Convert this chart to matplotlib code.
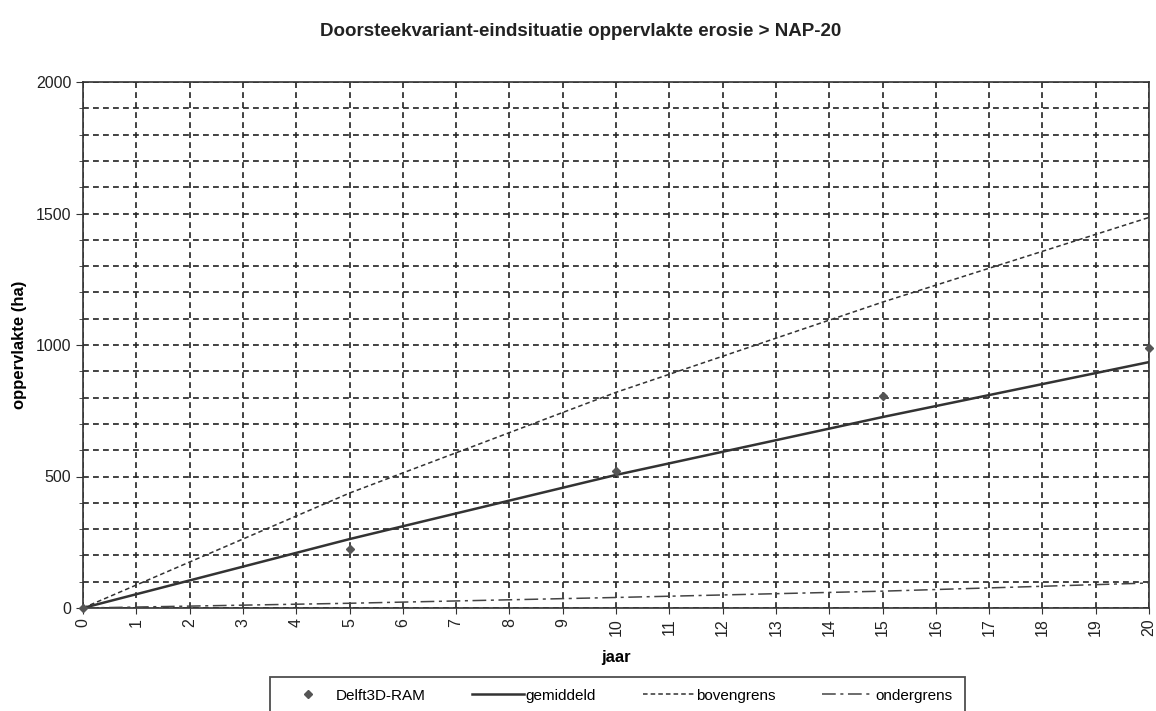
import matplotlib
matplotlib.use("Agg")
import matplotlib.pyplot as plt
import numpy as np
from matplotlib.ticker import MultipleLocator

plt.rcParams["font.family"] = ["Liberation Sans", "DejaVu Sans"]

# Delft3D-RAM results and fitted trend lines (area in ha per year)
jaar_ram = [0, 5, 10, 15, 20]
ram = [0, 226, 522, 806, 990]

jaar_fit = [0, 5, 10, 15, 20]
gemiddeld = [0, 262, 506, 726, 935]
bovengrens = [0, 437, 820, 1163, 1485]
ondergrens = [0, 18, 40, 64, 95]

title = "Doorsteekvariant-eindsituatie oppervlakte erosie > NAP-20"
ink = "#333333"

fig = plt.figure(figsize=(11.56, 7.11), dpi=100)
ax = fig.add_axes([83 / 1156, 1 - 608 / 711, (1149 - 83) / 1156, (608 - 82) / 711])

ax.plot(jaar_ram, ram, linestyle="none", marker="D", markersize=4.5,
        color="#555555", label="Delft3D-RAM", zorder=5, clip_on=False)
ax.plot(jaar_fit, gemiddeld, color=ink, lw=1.8, label="gemiddeld", zorder=4)
ax.plot(jaar_fit, bovengrens, color=ink, lw=1.1, dashes=(3, 2),
        label="bovengrens", zorder=4)
ax.plot(jaar_fit, ondergrens, color="#444444", lw=1.1, dashes=(9, 3, 2, 3),
        label="ondergrens", zorder=4)

ax.set_xlim(0, 20)
ax.set_ylim(0, 2000)
ax.set_xticks(np.arange(0, 21, 1))
ax.yaxis.set_major_locator(MultipleLocator(500))
ax.yaxis.set_minor_locator(MultipleLocator(100))
ax.tick_params(axis="x", labelrotation=90, labelsize=11.5, length=4,
               color=ink, labelcolor="#222222")
ax.tick_params(axis="y", which="major", labelsize=11.5, length=5,
               color=ink, labelcolor="#222222")
ax.tick_params(axis="y", which="minor", length=3, color=ink)

ax.grid(True, which="major", axis="x", color="#222222", lw=1.2,
        dashes=(3.5, 2.5))
ax.grid(True, which="both", axis="y", color="#222222", lw=1.2,
        dashes=(3.5, 2.5))
ax.set_axisbelow(True)
for sp in ax.spines.values():
    sp.set_color(ink)
    sp.set_linewidth(1.2)

ax.set_xlabel("jaar", fontsize=12, fontweight="bold", labelpad=10)
ax.set_ylabel("oppervlakte (ha)", fontsize=12, fontweight="bold", labelpad=6)
fig.text(0.502, 1 - 32 / 711, title, ha="center", va="center",
         fontsize=13.5, fontweight="bold", color="#222222")

leg = fig.legend(loc="lower left",
                 bbox_to_anchor=(270 / 1156, -4 / 711, (965 - 270) / 1156, 44 / 711),
                 mode="expand", ncol=4, frameon=True, fancybox=False,
                 fontsize=11, handlelength=3.4, handletextpad=0.1,
                 borderaxespad=0, borderpad=0.8)
leg.get_frame().set_edgecolor("#222222")
leg.get_frame().set_linewidth(1.3)

fig.savefig("out.png", dpi=100, facecolor="white")
